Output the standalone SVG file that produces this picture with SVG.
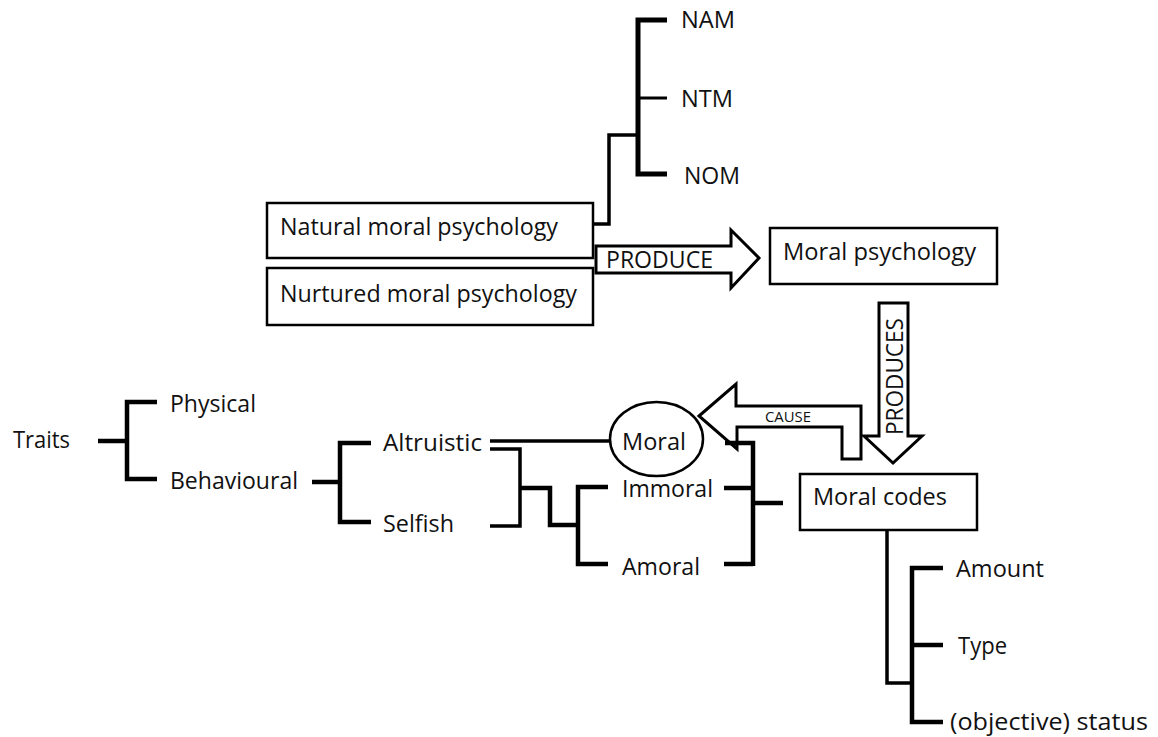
<svg xmlns="http://www.w3.org/2000/svg" width="1158" height="737" viewBox="0 0 1158 737">
  <style>
    .lbl { font-family: "Open Sans", "Liberation Sans", Arial, sans-serif; font-size: 23px; fill: #111; }
    .big { font-size: 24px; }
    .box { fill: #fff; stroke: #000; stroke-width: 2.5; }
    .arrow { fill: #fff; stroke: #000; stroke-width: 3; stroke-linejoin: miter; }
    .br { fill: none; stroke: #000; stroke-width: 4.5; stroke-linejoin: miter; stroke-linecap: butt; }
    .thin { stroke-width: 3.5; }
  </style>

  <!-- block arrows -->
  <g id="arrow-produce">
    <path class="arrow" d="M596,246 H731 V230 L759,258 L731,288 V273 H596 Z"/>
    <text class="lbl" x="606" y="268" textLength="107" lengthAdjust="spacingAndGlyphs">PRODUCE</text>
  </g>
  <g id="arrow-produces">
    <path class="arrow" d="M879,303 H908 V436 H922 L893,463 L864,436 H879 Z"/>
    <text class="lbl" transform="translate(903,435) rotate(-90)" textLength="117" lengthAdjust="spacingAndGlyphs">PRODUCES</text>
  </g>
  <g id="arrow-cause">
    <path class="arrow" d="M699,416 L736,384 V406 H861 V459 H842 V427 H737 V449 Z"/>
    <text class="lbl" style="font-size:14px" x="765" y="422" textLength="46" lengthAdjust="spacingAndGlyphs">CAUSE</text>
  </g>

  <!-- boxed nodes -->
  <g id="natural">
    <rect class="box" x="267" y="203" width="326" height="55"/>
    <text class="lbl big" x="280" y="235" textLength="278" lengthAdjust="spacingAndGlyphs">Natural moral psychology</text>
  </g>
  <g id="nurtured">
    <rect class="box" x="267" y="268" width="326" height="57"/>
    <text class="lbl big" x="280" y="302" textLength="297" lengthAdjust="spacingAndGlyphs">Nurtured moral psychology</text>
  </g>
  <g id="moral-psychology">
    <rect class="box" x="770" y="228" width="227" height="56"/>
    <text class="lbl big" x="783" y="260" textLength="193" lengthAdjust="spacingAndGlyphs">Moral psychology</text>
  </g>
  <g id="moral-codes">
    <rect class="box" x="800" y="474" width="177" height="56"/>
    <text class="lbl big" x="813" y="505" textLength="134" lengthAdjust="spacingAndGlyphs">Moral codes</text>
  </g>
  <g id="moral">
    <ellipse cx="656.5" cy="439" rx="46.5" ry="37" fill="#fff" stroke="#000" stroke-width="2.5"/>
    <text class="lbl" x="622" y="450" textLength="64" lengthAdjust="spacingAndGlyphs">Moral</text>
  </g>

  <!-- plain labels -->
  <g id="nam"><text class="lbl" x="681" y="28" textLength="54" lengthAdjust="spacingAndGlyphs">NAM</text></g>
  <g id="ntm"><text class="lbl" x="681" y="107" textLength="52" lengthAdjust="spacingAndGlyphs">NTM</text></g>
  <g id="nom"><text class="lbl" x="684" y="184" textLength="56" lengthAdjust="spacingAndGlyphs">NOM</text></g>
  <g id="traits"><text class="lbl" x="13" y="448" textLength="57" lengthAdjust="spacingAndGlyphs">Traits</text></g>
  <g id="physical"><text class="lbl" x="170" y="412" textLength="86" lengthAdjust="spacingAndGlyphs">Physical</text></g>
  <g id="behavioural"><text class="lbl" x="170" y="489" textLength="128" lengthAdjust="spacingAndGlyphs">Behavioural</text></g>
  <g id="altruistic"><text class="lbl" x="383" y="451" textLength="99" lengthAdjust="spacingAndGlyphs">Altruistic</text></g>
  <g id="selfish"><text class="lbl" x="383" y="532" textLength="71" lengthAdjust="spacingAndGlyphs">Selfish</text></g>
  <g id="immoral"><text class="lbl" x="622" y="497" textLength="91" lengthAdjust="spacingAndGlyphs">Immoral</text></g>
  <g id="amoral"><text class="lbl" x="622" y="575" textLength="78" lengthAdjust="spacingAndGlyphs">Amoral</text></g>
  <g id="amount"><text class="lbl" x="956" y="577" textLength="88" lengthAdjust="spacingAndGlyphs">Amount</text></g>
  <g id="type"><text class="lbl" x="958" y="654" textLength="49" lengthAdjust="spacingAndGlyphs">Type</text></g>
  <g id="status"><text class="lbl" x="950" y="730" textLength="198" lengthAdjust="spacingAndGlyphs">(objective) status</text></g>

  <!-- bracket connectors -->
  <g id="connectors">
    <path class="br" style="stroke-width:5" d="M667,20 H638 V174 H667"/>
    <path class="br" style="stroke-width:3" d="M638,98 H667"/>
    <path class="br thin" d="M638,135 H609 V224 H593"/>

    <path class="br" d="M98,441 H127"/>
    <path class="br" d="M157,402 H127 V479 H157"/>

    <path class="br" d="M312,482 H340"/>
    <path class="br" d="M371,443 H340 V522 H371"/>

    <path class="br thin" d="M490,441 H610"/>
    <path class="br thin" d="M490,449 H520 V526 H490"/>
    <path class="br" d="M520,488 H550 V525 H578"/>
    <path class="br" d="M608,487 H578 V564 H608"/>

    <path class="br" d="M724,488 H753"/>
    <path class="br" d="M724,564 H753"/>
    <path class="br" d="M725,443 H753 V566"/>
    <path class="br" d="M753,503 H783"/>

    <path class="br thin" d="M887,530 V683 H912"/>
    <path class="br" d="M943,568 H912 V722 H943"/>
    <path class="br" d="M912,645 H943"/>
  </g>
</svg>
